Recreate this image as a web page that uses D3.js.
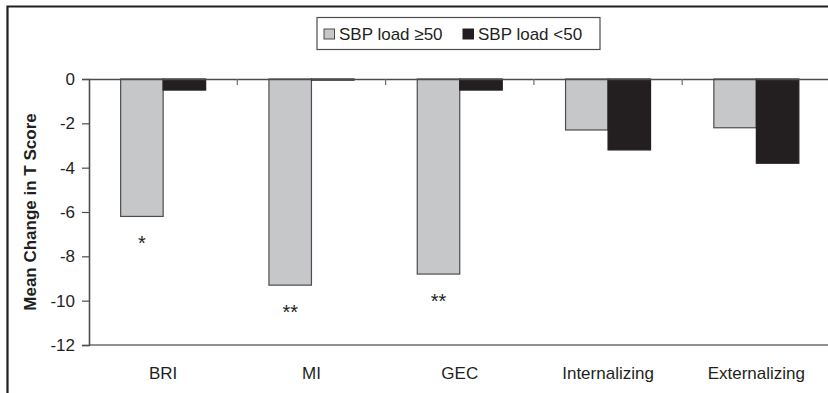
<!DOCTYPE html>
<html>
<head>
<meta charset="utf-8">
<script src="https://cdn.jsdelivr.net/npm/d3@7"></script>
<style>
  html, body { margin: 0; padding: 0; background: #fff; }
  svg { display: block; font-family: "Liberation Sans", Arial, sans-serif; }
</style>
</head>
<body>
<svg id="chart" width="828" height="393"></svg>
<script>
// ---- data ----
const categories = ["BRI", "MI", "GEC", "Internalizing", "Externalizing"];
const seriesNames = ["SBP load \u226550", "SBP load <50"];
const highLoad = [-6.2, -9.3, -8.8, -2.3, -2.2];
const lowLoad = [-0.5, -0.05, -0.5, -3.2, -3.8];
const significance = ["*", "**", "**", "", ""];
const yTicks = [0, -2, -4, -6, -8, -10, -12];
const yTitle = "Mean Change in T Score";

// ---- layout ----
const W = 828, H = 393;
const plot = { left: 89, right: 830.5, top: 79, bottom: 345 };
const colors = ["#c6c7c9", "#231f20"];
const ink = "#231f20";

const svg = d3.select("#chart");

// outer frame (partially cropped)
svg.append("path")
  .attr("d", `M7.5,${H + 5} V6.5 H${W + 5}`)
  .attr("fill", "none").attr("stroke", ink).attr("stroke-width", 2.2);

const x = d3.scaleBand().domain(categories).range([plot.left, plot.right]).paddingInner(0).paddingOuter(0);
const y = d3.scaleLinear().domain([-12, 0]).range([plot.bottom, plot.top]);
const barW = 42.5;
const sub = d3.scaleBand().domain(seriesNames).range([0, barW * 2]);

// bottom border line of plot
svg.append("line")
  .attr("x1", plot.left).attr("x2", plot.right)
  .attr("y1", plot.bottom).attr("y2", plot.bottom)
  .attr("stroke", "#6d6e70").attr("stroke-width", 1.5);

// bars
const rows = categories.map((c, i) => ({ cat: c, vals: [highLoad[i], lowLoad[i]], sig: significance[i] }));
const groups = svg.append("g").selectAll("g").data(rows).join("g")
  .attr("transform", d => `translate(${x(d.cat) + x.bandwidth() / 2 - barW},0)`);

groups.selectAll("rect").data(d => d.vals.map((v, k) => ({ v, k, name: seriesNames[k] }))).join("rect")
  .attr("x", d => sub(d.name))
  .attr("y", y(0))
  .attr("width", sub.bandwidth())
  .attr("height", d => Math.max(y(d.v) - y(0), 1))
  .attr("fill", d => colors[d.k])
  .attr("stroke", d => d.k === 0 ? "#4d4d4f" : ink)
  .attr("stroke-width", 1.2);

// significance markers
groups.append("text")
  .attr("x", barW / 2)
  .attr("y", d => y(d.vals[0]) + 34)
  .attr("text-anchor", "middle")
  .attr("font-size", 20)
  .attr("fill", ink)
  .text(d => d.sig);

// y axis
const yAxis = d3.axisLeft(y).tickValues(yTicks).tickSize(7).tickPadding(7).tickFormat(d => String(d));
const gy = svg.append("g").attr("transform", `translate(${plot.left},0)`).call(yAxis);
gy.select(".domain").attr("stroke", "#4d4d4f").attr("stroke-width", 1.6);
gy.selectAll(".tick line").attr("stroke", "#4d4d4f").attr("stroke-width", 1.2);
gy.selectAll(".tick text").attr("font-size", 17).attr("fill", ink)
  .attr("font-family", "Liberation Sans, Arial, sans-serif");

// zero line / category axis
const xAxis = d3.axisBottom(x).tickSize(0).tickFormat("");
const gx = svg.append("g").attr("transform", `translate(0,${y(0)})`).call(xAxis);
gx.select(".domain").attr("stroke", "#4d4d4f").attr("stroke-width", 1.6);
// boundary tick marks pointing down
const bounds = categories.slice(1).map(c => x(c));
gx.selectAll(".bt").data(bounds).join("line")
  .attr("x1", d => d).attr("x2", d => d).attr("y1", 0).attr("y2", 6)
  .attr("stroke", "#6d6e70").attr("stroke-width", 1.2);

// category labels
svg.append("g").selectAll("text").data(categories).join("text")
  .attr("x", d => x(d) + x.bandwidth() / 2)
  .attr("y", plot.bottom + 34)
  .attr("text-anchor", "middle")
  .attr("font-size", 17)
  .attr("fill", ink)
  .text(d => d);

// y title
svg.append("text")
  .attr("transform", `translate(36,${(plot.top + plot.bottom) / 2}) rotate(-90)`)
  .attr("text-anchor", "middle")
  .attr("font-size", 17)
  .attr("font-weight", "bold")
  .attr("fill", ink)
  .text(yTitle);

// legend
const lg = svg.append("g");
lg.append("rect").attr("x", 317).attr("y", 17.5).attr("width", 283).attr("height", 32)
  .attr("fill", "#fff").attr("stroke", "#4d4d4f").attr("stroke-width", 1.2);
const legendX = [324, 463];
seriesNames.forEach((name, k) => {
  lg.append("rect").attr("x", legendX[k]).attr("y", 29).attr("width", 10.5).attr("height", 10)
    .attr("fill", colors[k]).attr("stroke", k === 0 ? "#4d4d4f" : ink).attr("stroke-width", 1);
  lg.append("text").attr("x", legendX[k] + 15).attr("y", 39.5)
    .attr("font-size", 17).attr("fill", ink).text(name);
});
</script>
</body>
</html>
